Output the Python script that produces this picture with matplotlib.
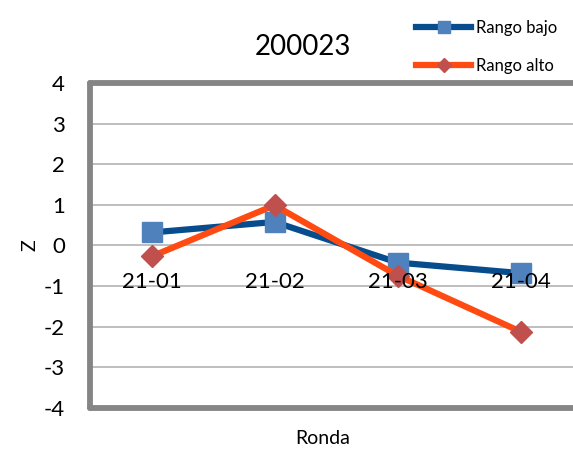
import matplotlib
matplotlib.use("Agg")
import matplotlib.pyplot as plt
import numpy as np

plt.rcParams['font.family'] = ['Lato', 'DejaVu Sans']

# data
rondas = ["21-01", "21-02", "21-03", "21-04"]
rango_bajo = [0.32, 0.58, -0.42, -0.68]
rango_alto = [-0.27, 0.99, -0.74, -2.12]
y_ticks = [-4, -3, -2, -1, 0, 1, 2, 3, 4]

fig = plt.figure(figsize=(5.73, 4.49), dpi=100)
# plot area runs past the right edge of the picture, like the reference
ax = fig.add_axes([90 / 573, 41 / 449, 492 / 573, 325 / 449])

x = np.arange(len(rondas))
ax.plot(x, rango_bajo, color="#074C8C", lw=4.5, marker="s", ms=14,
        mfc="#4F81BD", mec="#4F81BD", label="Rango bajo", zorder=3)
ax.plot(x, rango_alto, color="#FF4A12", lw=4.5, marker="D", ms=11,
        mfc="#C0504D", mec="#C0504D", label="Rango alto", zorder=4)

ax.set_xlim(-0.5, len(rondas) - 0.5)
ax.set_ylim(-4, 4)
ax.set_yticks(y_ticks)
ax.set_yticklabels([str(v) for v in y_ticks], fontsize=16)
ax.tick_params(axis="y", length=0, pad=18)
ax.set_xticks([])
ax.grid(axis="y", color="#BEBEBE", lw=1.4)
ax.set_axisbelow(True)

# category labels sit under the zero line, drawn over the series
for i, lab in enumerate(rondas):
    ax.annotate(lab, (i, 0), xytext=(0, -19), textcoords="offset points",
                ha="center", va="top", fontsize=16, zorder=6)

# gray Excel-like frame
for side in ["left", "bottom", "top"]:
    ax.spines[side].set_color("#858585")
    ax.spines[side].set_linewidth(4.2)
    ax.spines[side].set_capstyle("round")
ax.spines["right"].set_visible(False)

fig.text(303 / 573, 1 - 47 / 449, "200023", ha="center", va="center", fontsize=20)
fig.text(323 / 573, 1 - 439 / 449, "Ronda", ha="center", va="center", fontsize=14)
fig.text(30 / 573, 1 - 245 / 449, "Z", ha="center", va="center", fontsize=14, rotation=90)

fig.legend(loc="upper left", bbox_to_anchor=(401 / 573, 1 - 5 / 449),
           frameon=False, fontsize=12, handlelength=3.3, handletextpad=0.3,
           labelspacing=1.3, markerscale=0.65)

fig.savefig("out.png", dpi=100)
